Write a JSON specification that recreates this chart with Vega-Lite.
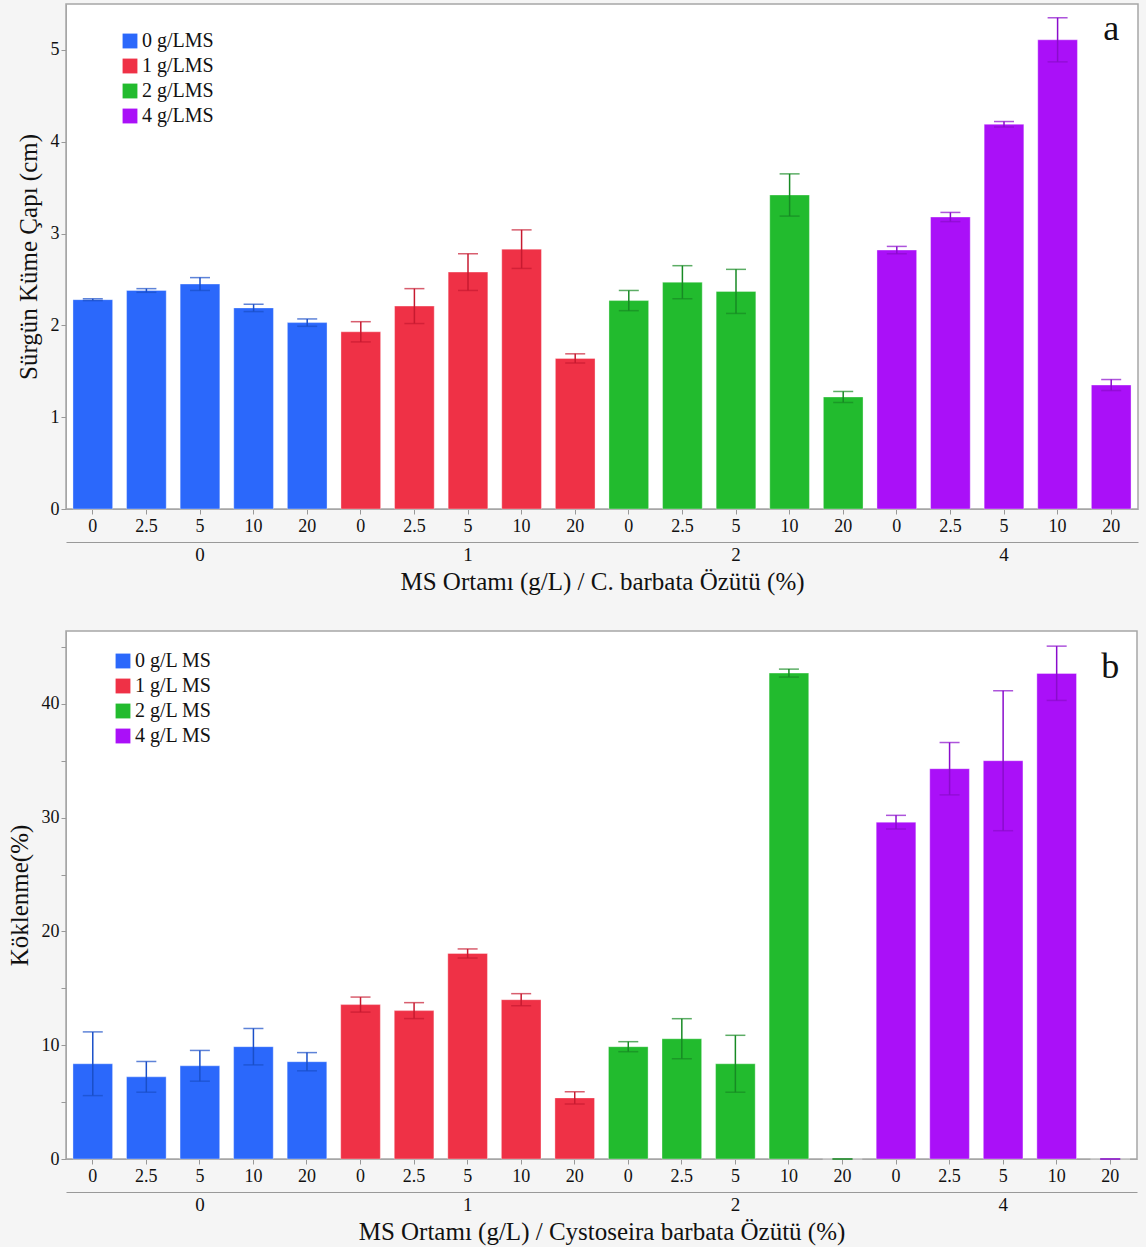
{
  "$schema": "https://vega.github.io/schema/vega-lite/v6.json",
  "background": "#f5f5f5",
  "padding": {"left": 6, "top": 3, "right": 8, "bottom": 2},
  "spacing": 35,
  "config": {
    "font": "Liberation Serif",
    "view": {"fill": "white", "stroke": "#a6a6a6", "strokeWidth": 1.5},
    "axis": {"labelFont": "Liberation Serif", "titleFont": "Liberation Serif", "labelFontSize": 18, "titleFontSize": 25, "titleFontWeight": "normal", "labelColor": "#111", "titleColor": "#111", "tickColor": "#999", "domainColor": "#a6a6a6", "tickSize": 5, "grid": false},
    "legend": {"labelFont": "Liberation Serif", "labelFontSize": 20, "labelColor": "#111"}
  },
  "datasets": {
    "a": [
      {"ms": "0", "key": "0|0", "v": 2.28, "lo": 2.27, "hi": 2.29},
      {"ms": "0", "key": "0|2.5", "v": 2.38, "lo": 2.36, "hi": 2.40},
      {"ms": "0", "key": "0|5", "v": 2.45, "lo": 2.38, "hi": 2.52},
      {"ms": "0", "key": "0|10", "v": 2.19, "lo": 2.15, "hi": 2.23},
      {"ms": "0", "key": "0|20", "v": 2.03, "lo": 1.99, "hi": 2.07},
      {"ms": "1", "key": "1|0", "v": 1.93, "lo": 1.82, "hi": 2.04},
      {"ms": "1", "key": "1|2.5", "v": 2.21, "lo": 2.02, "hi": 2.40},
      {"ms": "1", "key": "1|5", "v": 2.58, "lo": 2.38, "hi": 2.78},
      {"ms": "1", "key": "1|10", "v": 2.83, "lo": 2.62, "hi": 3.04},
      {"ms": "1", "key": "1|20", "v": 1.64, "lo": 1.59, "hi": 1.69},
      {"ms": "2", "key": "2|0", "v": 2.27, "lo": 2.16, "hi": 2.38},
      {"ms": "2", "key": "2|2.5", "v": 2.47, "lo": 2.29, "hi": 2.65},
      {"ms": "2", "key": "2|5", "v": 2.37, "lo": 2.13, "hi": 2.61},
      {"ms": "2", "key": "2|10", "v": 3.42, "lo": 3.19, "hi": 3.65},
      {"ms": "2", "key": "2|20", "v": 1.22, "lo": 1.16, "hi": 1.28},
      {"ms": "4", "key": "4|0", "v": 2.82, "lo": 2.78, "hi": 2.86},
      {"ms": "4", "key": "4|2.5", "v": 3.18, "lo": 3.13, "hi": 3.23},
      {"ms": "4", "key": "4|5", "v": 4.19, "lo": 4.16, "hi": 4.22},
      {"ms": "4", "key": "4|10", "v": 5.11, "lo": 4.87, "hi": 5.35},
      {"ms": "4", "key": "4|20", "v": 1.35, "lo": 1.29, "hi": 1.41}
    ],
    "b": [
      {"ms": "0", "key": "0|0", "v": 8.37, "lo": 5.57, "hi": 11.17},
      {"ms": "0", "key": "0|2.5", "v": 7.22, "lo": 5.87, "hi": 8.57},
      {"ms": "0", "key": "0|5", "v": 8.19, "lo": 6.84, "hi": 9.54},
      {"ms": "0", "key": "0|10", "v": 9.87, "lo": 8.27, "hi": 11.47},
      {"ms": "0", "key": "0|20", "v": 8.55, "lo": 7.75, "hi": 9.35},
      {"ms": "1", "key": "1|0", "v": 13.57, "lo": 12.91, "hi": 14.23},
      {"ms": "1", "key": "1|2.5", "v": 13.04, "lo": 12.34, "hi": 13.74},
      {"ms": "1", "key": "1|5", "v": 18.06, "lo": 17.66, "hi": 18.46},
      {"ms": "1", "key": "1|10", "v": 14.0, "lo": 13.47, "hi": 14.53},
      {"ms": "1", "key": "1|20", "v": 5.37, "lo": 4.84, "hi": 5.9},
      {"ms": "2", "key": "2|0", "v": 9.87, "lo": 9.43, "hi": 10.31},
      {"ms": "2", "key": "2|2.5", "v": 10.57, "lo": 8.81, "hi": 12.33},
      {"ms": "2", "key": "2|5", "v": 8.37, "lo": 5.87, "hi": 10.87},
      {"ms": "2", "key": "2|10", "v": 42.7, "lo": 42.35, "hi": 43.05},
      {"ms": "2", "key": "2|20", "v": 0, "lo": 0, "hi": 0},
      {"ms": "4", "key": "4|0", "v": 29.6, "lo": 29.0, "hi": 30.2},
      {"ms": "4", "key": "4|2.5", "v": 34.3, "lo": 32.0, "hi": 36.6},
      {"ms": "4", "key": "4|5", "v": 35.0, "lo": 28.85, "hi": 41.15},
      {"ms": "4", "key": "4|10", "v": 42.67, "lo": 40.3, "hi": 45.07},
      {"ms": "4", "key": "4|20", "v": 0, "lo": 0, "hi": 0}
    ]
  },
  "vconcat": [
    {
      "width": 1072,
      "height": 505,
      "data": {"name": "a"},
      "resolve": {"scale": {"color": "independent"}, "axis": {"x": "independent"}},
      "layer": [
        {
          "mark": {"type": "bar", "strokeWidth": 1, "strokeOpacity": 0.35},
          "encoding": {
            "x": {"field": "key", "type": "nominal", "sort": null,
              "scale": {"paddingInner": 0.26, "paddingOuter": 0.13},
              "axis": {"orient": "bottom", "title": null, "labelAngle": 0, "labelPadding": 3, "labelFont": "Liberation Serif", "labelFontSize": 18, "labelExpr": "split(datum.label, '|')[1]"}},
            "y": {"field": "v", "type": "quantitative", "title": "Sürgün Küme Çapı (cm)",
              "scale": {"domain": [0, 5.5], "nice": false},
              "axis": {"values": [0, 1, 2, 3, 4, 5], "format": "d", "labelPadding": 2, "titlePadding": 9, "labelFont": "Liberation Serif", "labelFontSize": 18, "titleFont": "Liberation Serif", "titleFontSize": 25}},
            "color": {"field": "ms", "type": "nominal",
              "scale": {"domain": ["0", "1", "2", "4"], "range": ["#2b68fb", "#ef3146", "#22bb2e", "#aa10f8"]},
              "legend": {"title": null, "orient": "none", "legendX": 54, "legendY": 27, "symbolType": "square", "symbolSize": 220, "symbolStrokeWidth": 0, "rowPadding": 5, "labelOffset": 2, "labelFont": "Liberation Serif", "labelFontSize": 20, "labelExpr": "datum.label + ' g/LMS'"}},
            "stroke": {"value": "#ffffff"}
          }
        },
        {
          "mark": {"type": "rule", "strokeWidth": 1.5},
          "encoding": {
            "x": {"field": "key", "type": "nominal", "sort": null,
              "axis": {"orient": "bottom", "offset": 33, "ticks": false, "domain": true, "domainColor": "#999", "values": ["0|5", "1|5", "2|5", "4|5"], "labelAngle": 0, "labelPadding": 3, "labelFont": "Liberation Serif", "labelFontSize": 19, "labelExpr": "split(datum.label, '|')[0]", "title": "MS Ortamı (g/L) / C. barbata Özütü (%)", "titleFont": "Liberation Serif", "titleFontSize": 25, "titlePadding": 5}},
            "y": {"field": "lo", "type": "quantitative", "title": "Sürgün Küme Çapı (cm)"},
            "y2": {"field": "hi"},
            "color": {"field": "ms", "type": "nominal", "scale": {"domain": ["0", "1", "2", "4"], "range": ["#1a4fc8", "#c71a30", "#178a24", "#8a0ccc"]}, "legend": null}
          }
        },
        {
          "mark": {"type": "tick", "size": 20, "thickness": 1.5},
          "encoding": {
            "x": {"field": "key", "type": "nominal", "sort": null, "axis": null},
            "y": {"field": "lo", "type": "quantitative", "title": "Sürgün Küme Çapı (cm)"},
            "color": {"field": "ms", "type": "nominal", "scale": {"domain": ["0", "1", "2", "4"], "range": ["#1a4fc8", "#c71a30", "#178a24", "#8a0ccc"]}, "legend": null}
          }
        },
        {
          "mark": {"type": "tick", "size": 20, "thickness": 1.5},
          "encoding": {
            "x": {"field": "key", "type": "nominal", "sort": null, "axis": null},
            "y": {"field": "hi", "type": "quantitative", "title": "Sürgün Küme Çapı (cm)"},
            "color": {"field": "ms", "type": "nominal", "scale": {"domain": ["0", "1", "2", "4"], "range": ["#1a4fc8", "#c71a30", "#178a24", "#8a0ccc"]}, "legend": null}
          }
        },
        {
          "data": {"values": [{"key": "4|20", "y": 5.23, "t": "a"}]},
          "mark": {"type": "text", "fontSize": 36, "font": "Liberation Serif", "color": "#111", "baseline": "middle", "align": "center"},
          "encoding": {
            "x": {"field": "key", "type": "nominal", "sort": null, "axis": null},
            "y": {"field": "y", "type": "quantitative", "title": "Sürgün Küme Çapı (cm)"},
            "text": {"field": "t"}
          }
        }
      ]
    },
    {
      "width": 1071,
      "height": 528,
      "data": {"name": "b"},
      "resolve": {"scale": {"color": "independent"}, "axis": {"x": "independent"}},
      "layer": [
        {
          "mark": {"type": "bar", "strokeWidth": 1, "strokeOpacity": 0.35},
          "encoding": {
            "x": {"field": "key", "type": "nominal", "sort": null,
              "scale": {"paddingInner": 0.26, "paddingOuter": 0.13},
              "axis": {"orient": "bottom", "title": null, "labelAngle": 0, "labelPadding": 3, "labelFont": "Liberation Serif", "labelFontSize": 18, "labelExpr": "split(datum.label, '|')[1]"}},
            "y": {"field": "v", "type": "quantitative", "title": "Köklenme(%)",
              "scale": {"domain": [0, 46.4], "nice": false},
              "axis": {"values": [0, 5, 10, 15, 20, 25, 30, 35, 40, 45], "format": "d", "labelExpr": "datum.value % 10 === 0 ? datum.label : ''", "labelPadding": 2, "titlePadding": 9, "labelFont": "Liberation Serif", "labelFontSize": 18, "titleFont": "Liberation Serif", "titleFontSize": 25}},
            "color": {"field": "ms", "type": "nominal",
              "scale": {"domain": ["0", "1", "2", "4"], "range": ["#2b68fb", "#ef3146", "#22bb2e", "#aa10f8"]},
              "legend": {"title": null, "orient": "none", "legendX": 47, "legendY": 20, "symbolType": "square", "symbolSize": 220, "symbolStrokeWidth": 0, "rowPadding": 5, "labelOffset": 2, "labelFont": "Liberation Serif", "labelFontSize": 20, "labelExpr": "datum.label + ' g/L MS'"}},
            "stroke": {"value": "#ffffff"}
          }
        },
        {
          "mark": {"type": "rule", "strokeWidth": 1.5},
          "encoding": {
            "x": {"field": "key", "type": "nominal", "sort": null,
              "axis": {"orient": "bottom", "offset": 33, "ticks": false, "domain": true, "domainColor": "#999", "values": ["0|5", "1|5", "2|5", "4|5"], "labelAngle": 0, "labelPadding": 3, "labelFont": "Liberation Serif", "labelFontSize": 19, "labelExpr": "split(datum.label, '|')[0]", "title": "MS  Ortamı (g/L) / Cystoseira barbata Özütü (%)", "titleFont": "Liberation Serif", "titleFontSize": 25, "titlePadding": 5}},
            "y": {"field": "lo", "type": "quantitative", "title": "Köklenme(%)"},
            "y2": {"field": "hi"},
            "color": {"field": "ms", "type": "nominal", "scale": {"domain": ["0", "1", "2", "4"], "range": ["#1a4fc8", "#c71a30", "#178a24", "#8a0ccc"]}, "legend": null}
          }
        },
        {
          "mark": {"type": "tick", "size": 20, "thickness": 1.5},
          "encoding": {
            "x": {"field": "key", "type": "nominal", "sort": null, "axis": null},
            "y": {"field": "lo", "type": "quantitative", "title": "Köklenme(%)"},
            "color": {"field": "ms", "type": "nominal", "scale": {"domain": ["0", "1", "2", "4"], "range": ["#1a4fc8", "#c71a30", "#178a24", "#8a0ccc"]}, "legend": null}
          }
        },
        {
          "mark": {"type": "tick", "size": 20, "thickness": 1.5},
          "encoding": {
            "x": {"field": "key", "type": "nominal", "sort": null, "axis": null},
            "y": {"field": "hi", "type": "quantitative", "title": "Köklenme(%)"},
            "color": {"field": "ms", "type": "nominal", "scale": {"domain": ["0", "1", "2", "4"], "range": ["#1a4fc8", "#c71a30", "#178a24", "#8a0ccc"]}, "legend": null}
          }
        },
        {
          "data": {"values": [{"key": "4|20", "y": 43.2, "t": "b"}]},
          "mark": {"type": "text", "fontSize": 36, "font": "Liberation Serif", "color": "#111", "baseline": "middle", "align": "center"},
          "encoding": {
            "x": {"field": "key", "type": "nominal", "sort": null, "axis": null},
            "y": {"field": "y", "type": "quantitative", "title": "Köklenme(%)"},
            "text": {"field": "t"}
          }
        }
      ]
    }
  ]
}
